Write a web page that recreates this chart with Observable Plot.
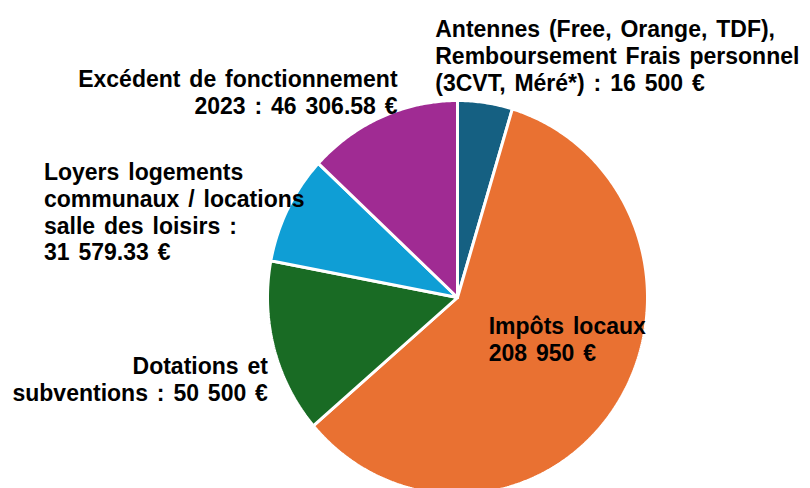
<!DOCTYPE html>
<html>
<head>
<meta charset="utf-8">
<script src="https://cdn.jsdelivr.net/npm/d3@7"></script>
<script src="https://cdn.jsdelivr.net/npm/@observablehq/plot@0.6"></script>
<style>
  html, body { margin: 0; padding: 0; background: #fff; }
  #chart svg { display: block; }
  #chart svg text { word-spacing: 2.5px; }
</style>
</head>
<body>
<div id="chart"></div>
<script>
// ---- data ----
const categories = ["Antennes", "Impôts locaux", "Dotations et subventions", "Loyers", "Excédent 2023"];
const values = [16500, 208950, 50500, 31579.33, 46306.58];
const labels = [
  "Antennes (Free, Orange, TDF),\nRemboursement Frais personnel\n(3CVT, Méré*) : 16 500 €",
  "Impôts locaux\n208 950 €",
  "Dotations et\nsubventions : 50 500 €",
  "Loyers logements\ncommunaux / locations\nsalle des loisirs :\n31 579.33 €",
  "Excédent de fonctionnement\n2023 : 46 306.58 €"
];
const colors = ["#156082", "#E97132", "#196B24", "#0F9ED5", "#A02B93"];

// ---- label layout (pixel offsets from slice edge at mid-angle) ----
const labelLayout = [
  {anchor: "start", dx: -50, dy: -85},
  {anchor: "start", dx: -128, dy: -90},
  {anchor: "end", dx: -6, dy: 7},
  {anchor: "start", dx: -244, dy: -48},
  {anchor: "end", dx: 16, dy: -49}
];

const arcs = d3.pie().sort(null).value(d => d)(values);
const slices = arcs.map((a, i) => ({name: categories[i], color: colors[i], start: a.startAngle, end: a.endAngle}));

// polygon outline for each slice (center + arc)
const outline = slices.flatMap(s => {
  const n = Math.max(4, Math.ceil((s.end - s.start) / 0.01));
  const pts = [{name: s.name, x: 0, y: 0}];
  for (let k = 0; k <= n; k++) {
    const t = s.start + (s.end - s.start) * k / n;
    pts.push({name: s.name, x: Math.sin(t), y: Math.cos(t)});
  }
  pts.push({name: s.name, x: 0, y: 0});
  return pts;
});

const textMarks = slices.map((s, i) => {
  const mid = (s.start + s.end) / 2;
  const L = labelLayout[i];
  return Plot.text([{x: Math.sin(mid), y: Math.cos(mid), label: labels[i]}], {
    x: "x", y: "y", text: "label",
    textAnchor: L.anchor, lineAnchor: "top",
    dx: L.dx, dy: L.dy,
    fontSize: 23, fontWeight: "bold", lineHeight: 1.17,
    fill: "#000"
  });
});

const chart = Plot.plot({
  width: 810,
  height: 488,
  margin: 0,
  style: {fontFamily: "'Liberation Sans', Arial, sans-serif", background: "#fff"},
  x: {domain: [-1, 1], range: [267, 647], axis: null},
  y: {domain: [-1, 1], range: [494, 100], axis: null},
  color: {domain: categories, range: colors},
  marks: [
    Plot.line(outline, {x: "x", y: "y", z: "name", fill: "name", stroke: "#fff", strokeWidth: 3, strokeLinejoin: "miter", curve: "linear"}),
    ...textMarks
  ]
});
document.getElementById("chart").appendChild(chart);
</script>
</body>
</html>
